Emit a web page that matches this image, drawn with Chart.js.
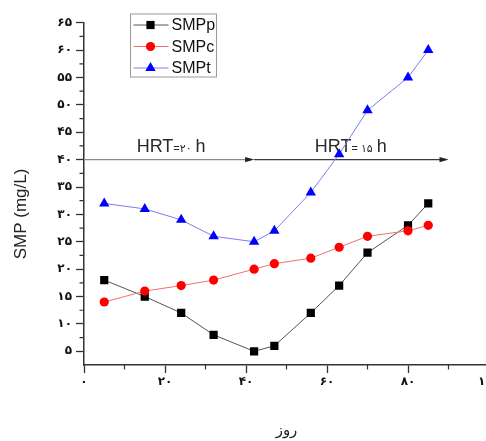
<!DOCTYPE html>
<html><head><meta charset="utf-8">
<script src="https://cdn.jsdelivr.net/npm/chart.js@4"></script>
<style>
html,body{margin:0;padding:0;background:#fff;overflow:hidden;width:486px;height:441px}
#wrap{position:relative;width:500px;height:441px}
</style>
</head><body><div id="wrap"><canvas id="c" width="500" height="441"></canvas></div>
<script>
// ---- data ----
const days = [5, 15, 24, 32, 42, 47, 56, 63, 70, 80, 85];
const smpP = [18, 15, 12, 8, 5, 6, 12, 17, 23, 28, 32];
const smpC = [14, 16, 17, 18, 20, 21, 22, 24, 26, 27, 28];
const smpT = [32, 31, 29, 26, 25, 27, 34, 41, 49, 55, 60];
const seriesNames = ['SMPp', 'SMPc', 'SMPt'];
const yTicks = [5, 10, 15, 20, 25, 30, 35, 40, 45, 50, 55, 60, 65];
const yMinorTicks = [7.5, 12.5, 17.5, 22.5, 27.5, 32.5, 37.5, 42.5, 47.5, 52.5, 57.5, 62.5];
const xTicks = [0, 20, 40, 60, 80, 100];
const xMinorTicks = [10, 30, 50, 70, 90];
const hrtLevel = 40;
const hrtFrom = [0, 42];
const hrtTo = [42, 90];
const hrtHours = ['۲۰', '۱۵'];
const xTitle = 'روز';
const yTitle = 'SMP (mg/L)';

const fa = v => String(v).replace(/\d/g, d => '۰۱۲۳۴۵۶۷۸۹'[d]);
const pts = arr => days.map((d, i) => ({x: d, y: arr[i]}));

const styles = [
  {line: '#555555', fill: '#000000', shape: 'rect', r: 5.8},
  {line: '#f07070', fill: '#ff0000', shape: 'circle', r: 4.6},
  {line: '#7c7cf0', fill: '#0000ff', shape: 'triangle', r: 6}
];
const seriesData = [smpP, smpC, smpT];

function marker(ctx, s, x, y) {
  ctx.save();
  ctx.fillStyle = s.fill;
  ctx.beginPath();
  if (s.shape === 'rect') {
    const h = s.r * Math.SQRT1_2;
    ctx.rect(x - h, y - h, 2 * h, 2 * h);
  } else if (s.shape === 'circle') {
    ctx.arc(x, y, s.r, 0, Math.PI * 2);
  } else {
    const r = s.r;
    ctx.moveTo(x, y - r);
    ctx.lineTo(x + r * 0.866, y + r * 0.5);
    ctx.lineTo(x - r * 0.866, y + r * 0.5);
    ctx.closePath();
  }
  ctx.fill();
  ctx.restore();
}

const decor = {
  id: 'decor',
  beforeDatasetsDraw(chart) {
    const ctx = chart.ctx, xs = chart.scales.x, ys = chart.scales.y;
    const y = ys.getPixelForValue(hrtLevel);
    const cols = ['#8a8a8a', '#3a3a3a'];
    for (let i = 0; i < hrtFrom.length; i++) {
      const x0 = xs.getPixelForValue(hrtFrom[i]);
      const x1 = xs.getPixelForValue(hrtTo[i]);
      ctx.save();
      ctx.strokeStyle = cols[i];
      ctx.fillStyle = '#222';
      ctx.lineWidth = 1.3;
      ctx.beginPath();
      ctx.moveTo(x0, y); ctx.lineTo(x1 - 2, y); ctx.stroke();
      ctx.beginPath();
      ctx.moveTo(x1, y); ctx.lineTo(x1 - 9, y - 2.6); ctx.lineTo(x1 - 9, y + 2.6); ctx.closePath();
      ctx.fill();
      // label
      const tx = xs.getPixelForValue(hrtFrom[i] + (i === 0 ? 13 : 15));
      const ty = y - 7.5;
      ctx.fillStyle = '#2a2a2a';
      ctx.textBaseline = 'alphabetic';
      ctx.textAlign = 'left';
      let cx = tx;
      ctx.font = '18px "Liberation Sans", Arial, sans-serif';
      ctx.fillText('HRT', cx, ty); cx += ctx.measureText('HRT').width;
      ctx.font = '11px "Liberation Sans", Arial, sans-serif';
      ctx.fillText('=', cx, ty); cx += ctx.measureText('=').width + (i === 0 ? 0 : 3);
      ctx.font = '11px "DejaVu Sans", sans-serif';
      ctx.fillText(hrtHours[i], cx, ty); cx += ctx.measureText(hrtHours[i]).width + 4;
      ctx.font = '18px "Liberation Sans", Arial, sans-serif';
      ctx.fillText('h', cx, ty);
      ctx.restore();
    }
  },
  afterDraw(chart) {
    const ctx = chart.ctx, xs = chart.scales.x, ys = chart.scales.y;
    const a = chart.chartArea;
    ctx.save();
    // minor ticks
    ctx.strokeStyle = '#333'; ctx.lineWidth = 1.2;
    ctx.beginPath();
    yMinorTicks.forEach(v => { const p = ys.getPixelForValue(v); ctx.moveTo(a.left - 4.5, p); ctx.lineTo(a.left, p); });
    xMinorTicks.forEach(v => { const p = xs.getPixelForValue(v); ctx.moveTo(p, a.bottom); ctx.lineTo(p, a.bottom + 4.5); });
    ctx.stroke();
    // y title
    ctx.save();
    ctx.translate(21.5, 214);
    ctx.rotate(-Math.PI / 2);
    ctx.font = '17px "Liberation Sans", Arial, sans-serif';
    ctx.fillStyle = '#222';
    ctx.textAlign = 'center'; ctx.textBaseline = 'middle';
    ctx.fillText(yTitle, 0, 0);
    ctx.restore();
    // legend
    const bx = 130.5, by = 14, bw = 86, bh = 63;
    ctx.strokeStyle = '#9a9a9a'; ctx.lineWidth = 1;
    ctx.strokeRect(bx, by, bw, bh);
    ctx.font = '16px "Liberation Sans", Arial, sans-serif';
    ctx.textAlign = 'left'; ctx.textBaseline = 'middle';
    const rows = [25, 46.5, 68];
    seriesNames.forEach((n, i) => {
      const s = styles[i], ry = rows[i];
      ctx.strokeStyle = s.line; ctx.lineWidth = 1;
      ctx.beginPath(); ctx.moveTo(bx + 3, ry); ctx.lineTo(bx + 38, ry); ctx.stroke();
      marker(ctx, s, bx + 20, ry);
      ctx.fillStyle = '#111';
      ctx.fillText(n, bx + 41, ry + 1);
    });
    ctx.restore();
  }
};

new Chart(document.getElementById('c'), {
  type: 'scatter',
  data: {
    datasets: seriesData.map((arr, i) => ({
      label: seriesNames[i],
      data: pts(arr),
      showLine: true,
      borderColor: styles[i].line,
      borderWidth: 1,
      backgroundColor: styles[i].fill,
      pointBackgroundColor: styles[i].fill,
      pointBorderColor: styles[i].fill,
      pointBorderWidth: 0,
      pointStyle: styles[i].shape,
      pointRadius: styles[i].r,
      order: 3 - i,
      tension: 0
    }))
  },
  options: {
    responsive: false,
    animation: false,
    devicePixelRatio: 1,
    layout: {padding: {top: 22.7, right: 11, left: 0, bottom: 0}},
    plugins: {legend: {display: false}, tooltip: {enabled: false}},
    scales: {
      x: {
        type: 'linear', min: 0, max: 100,
        afterBuildTicks: s => { s.ticks = xTicks.map(v => ({value: v})); },
        afterFit: s => { s.height = 76; s.paddingLeft = 0; s.paddingRight = 0; },
        ticks: {callback: v => fa(v), font: {family: 'DejaVu Sans', size: 12, weight: 'bold'}, color: '#111', padding: 2, maxRotation: 0, autoSkip: false},
        grid: {drawOnChartArea: false, drawTicks: true, tickLength: 8, tickColor: '#333', tickWidth: 1.3},
        border: {color: '#333', width: 1.5},
        title: {display: true, text: xTitle, font: {family: 'DejaVu Sans', size: 15}, color: '#222', padding: {top: 0, bottom: 1}}
      },
      y: {
        type: 'linear', min: 2.5, max: 65,
        afterBuildTicks: s => { s.ticks = yTicks.map(v => ({value: v})); },
        afterFit: s => { s.width = 84; s.paddingTop = 0; s.paddingBottom = 0; },
        ticks: {callback: v => fa(v), font: {family: 'DejaVu Sans', size: 12, weight: 'bold'}, color: '#111', padding: 4, autoSkip: false},
        grid: {drawOnChartArea: false, drawTicks: true, tickLength: 8, tickColor: '#333', tickWidth: 1.3},
        border: {color: '#333', width: 1.5}
      }
    }
  },
  plugins: [decor]
});
</script>
</body></html>
